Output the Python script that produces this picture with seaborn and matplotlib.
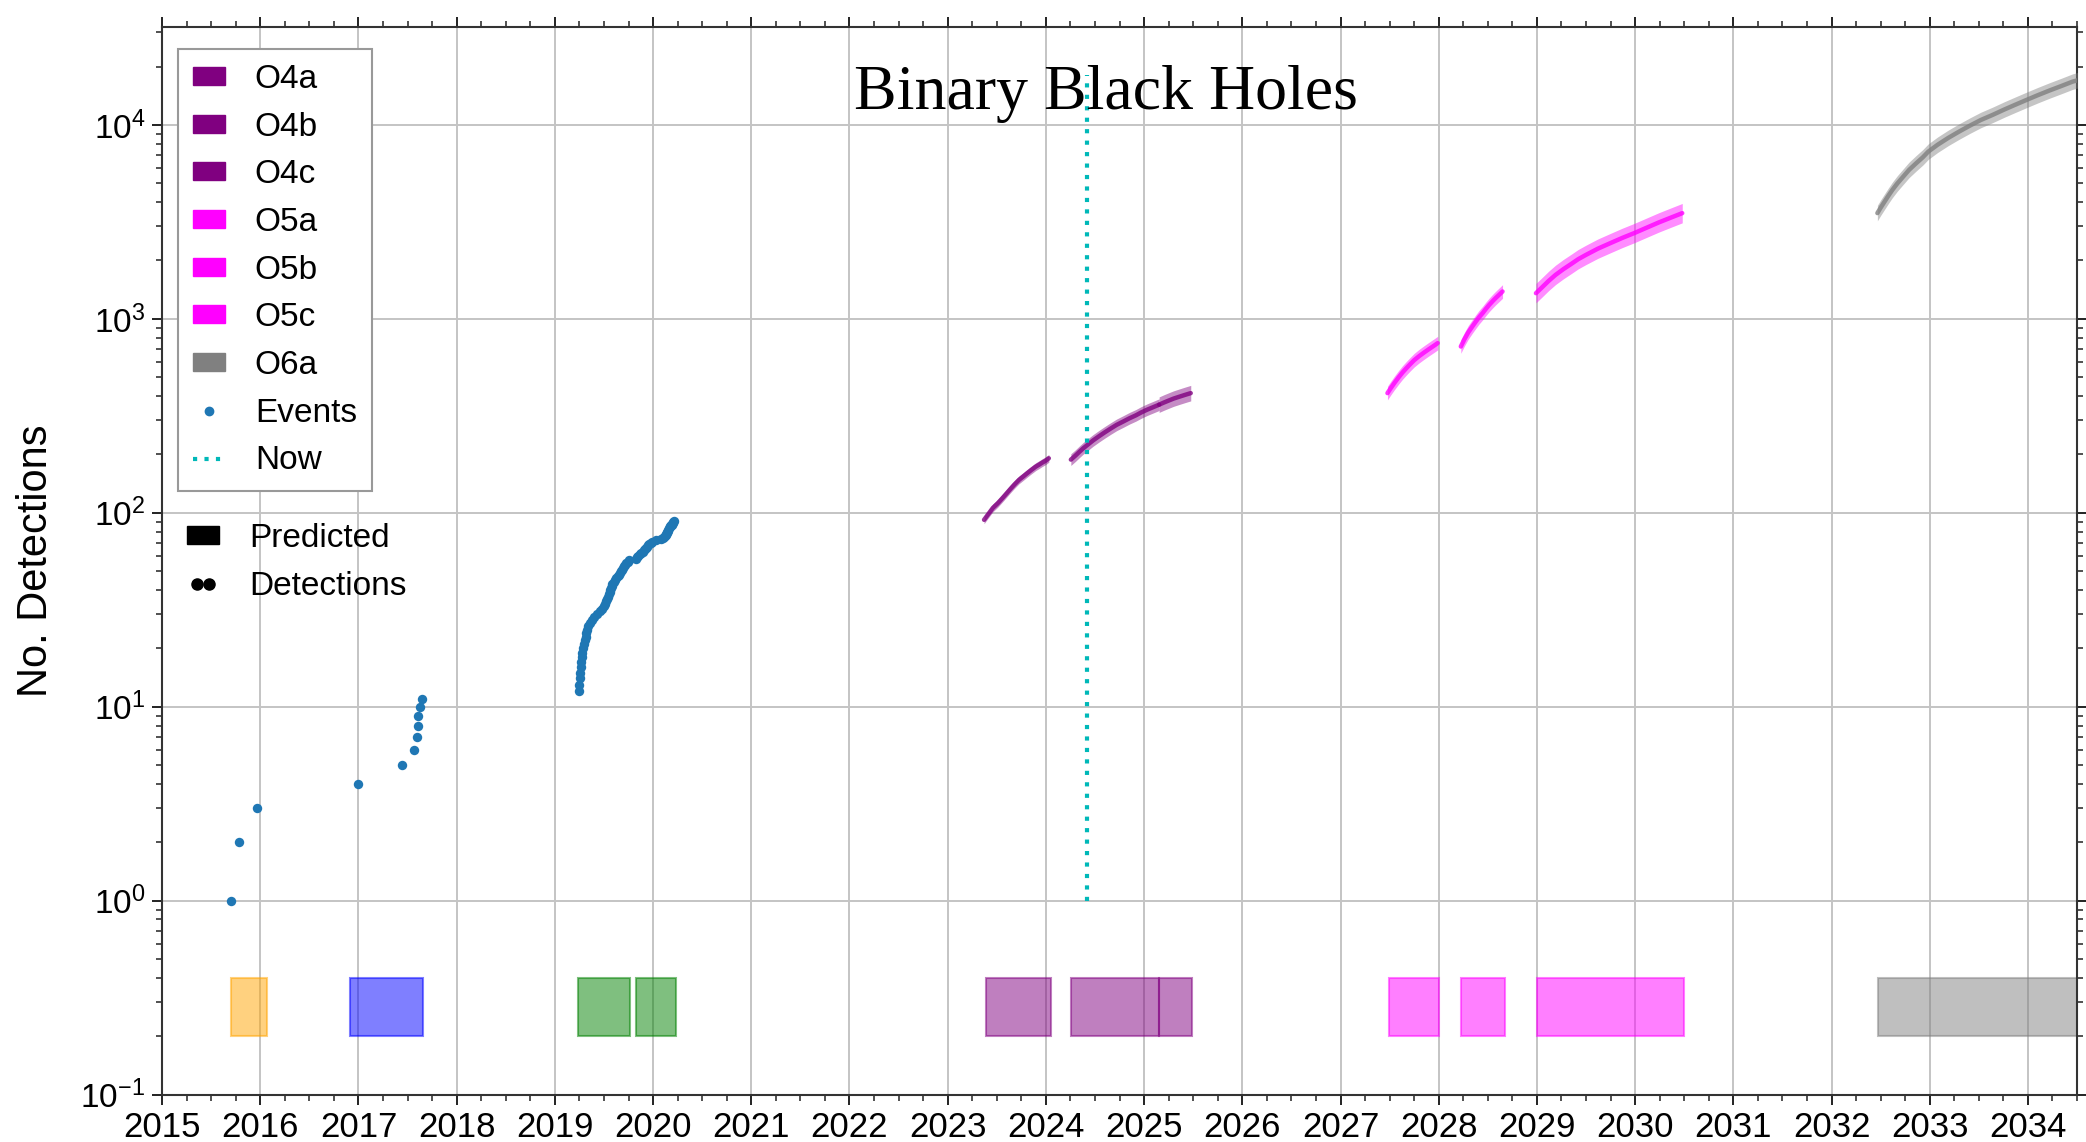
import matplotlib
matplotlib.use("Agg")
import numpy as np
import pandas as pd
import matplotlib.pyplot as plt
import seaborn as sns
from matplotlib.patches import Patch
from matplotlib.lines import Line2D
from matplotlib.ticker import MultipleLocator, LogLocator, NullFormatter

# ---------------- data ----------------
# Detected events (cumulative count vs. time)
o1_times = [2015.70, 2015.78, 2015.97]
o1_counts = [1, 2, 3]
o2_times = [2017.00, 2017.44, 2017.57, 2017.60, 2017.605, 2017.61, 2017.63, 2017.65]
o2_counts = [4, 5, 6, 7, 8, 9, 10, 11]
o3_times = [2019.245, 2019.25, 2019.255, 2019.26, 2019.265, 2019.27, 2019.275, 2019.28,
            2019.29, 2019.30, 2019.31, 2019.315, 2019.32, 2019.33, 2019.34, 2019.36,
            2019.38, 2019.40, 2019.43, 2019.46, 2019.48, 2019.50, 2019.51, 2019.52,
            2019.53, 2019.54, 2019.55, 2019.56, 2019.565, 2019.57, 2019.58, 2019.585,
            2019.60, 2019.61, 2019.62, 2019.64, 2019.65, 2019.66, 2019.67, 2019.68,
            2019.69, 2019.70, 2019.71, 2019.725, 2019.74, 2019.75, 2019.83, 2019.84,
            2019.85, 2019.87, 2019.88, 2019.90, 2019.91, 2019.92, 2019.93, 2019.94,
            2019.95, 2019.96, 2019.975, 2019.99, 2020.03, 2020.08, 2020.10, 2020.11,
            2020.12, 2020.13, 2020.135, 2020.14, 2020.145, 2020.15, 2020.155, 2020.16,
            2020.17, 2020.175, 2020.18, 2020.19, 2020.195, 2020.20, 2020.205, 2020.21]
o3_counts = [12, 13, 14, 15, 16, 17, 18, 19, 20, 21, 22, 23, 24, 25, 26, 27,
             28, 29, 30, 31, 32, 33, 34, 35, 36, 37, 38, 39, 40, 41, 42, 43,
             44, 45, 46, 47, 48, 49, 50, 51, 52, 53, 54, 55, 56, 57, 58, 59,
             60, 61, 62, 63, 64, 65, 66, 67, 68, 69, 70, 71, 72, 73, 74, 75,
             76, 77, 78, 79, 80, 81, 82, 83, 84, 85, 86, 87, 88, 89, 90, 91]

# Predicted cumulative detections per run (central value)
o4a_t = [2023.37, 2023.41, 2023.46, 2023.51, 2023.557, 2023.60, 2023.64, 2023.68, 2023.727,
         2023.77, 2023.81, 2023.85, 2023.897, 2023.93, 2023.96, 2024.00, 2024.03]
o4a_n = [92, 98, 106, 112, 119, 126, 133, 140, 148, 154, 160, 166, 173, 177, 181, 186, 191]
o4b_t = [2024.254, 2024.30, 2024.34, 2024.38, 2024.424, 2024.48, 2024.54, 2024.60, 2024.66,
         2024.72, 2024.79, 2024.85, 2024.916, 2024.97, 2025.03, 2025.09, 2025.153]
o4b_n = [188, 197, 206, 215, 224, 236, 248, 260, 272, 284, 296, 307, 318, 329, 340, 350, 361]
o4c_t = [2025.153, 2025.20, 2025.25, 2025.30, 2025.36, 2025.42, 2025.475]
o4c_n = [361, 370, 379, 388, 397, 406, 414]
o5a_t = [2027.478, 2027.51, 2027.55, 2027.59, 2027.63, 2027.67, 2027.71, 2027.75, 2027.80,
         2027.85, 2027.90, 2027.95, 2027.99]
o5a_n = [414, 438, 468, 498, 528, 556, 584, 612, 642, 670, 698, 726, 750]
o5b_t = [2028.225, 2028.26, 2028.30, 2028.34, 2028.378, 2028.41, 2028.45, 2028.48, 2028.514,
         2028.55, 2028.58, 2028.62, 2028.65]
o5b_n = [720, 782, 850, 910, 968, 1018, 1075, 1125, 1180, 1235, 1280, 1338, 1384]
o5c_t = [2028.99, 2029.05, 2029.12, 2029.19, 2029.27, 2029.35, 2029.42, 2029.50, 2029.62,
         2029.75, 2029.87, 2029.99, 2030.12, 2030.24, 2030.36, 2030.48]
o5c_n = [1356, 1450, 1570, 1686, 1805, 1920, 2030, 2138, 2300, 2460, 2615, 2767, 2955,
         3140, 3320, 3508]
o6a_t = [2032.467, 2032.50, 2032.54, 2032.58, 2032.62, 2032.67, 2032.73, 2032.79, 2032.86,
         2032.93, 2032.985, 2033.08, 2033.19, 2033.30, 2033.41, 2033.52, 2033.64, 2033.76,
         2033.87, 2033.985, 2034.10, 2034.22, 2034.34, 2034.455, 2034.6]
o6a_n = [3510, 3740, 4020, 4320, 4625, 4990, 5410, 5865, 6330, 6810, 7280, 7900, 8580,
         9245, 9920, 10600, 11260, 12010, 12700, 13450, 14230, 15050, 15870, 16720, 17500]

pred_names = ["O4a", "O4b", "O4c", "O5a", "O5b", "O5c", "O6a"]
pred_times = [o4a_t, o4b_t, o4c_t, o5a_t, o5b_t, o5c_t, o6a_t]
pred_counts = [o4a_n, o4b_n, o4c_n, o5a_n, o5b_n, o5c_n, o6a_n]
pred_band_dex = [0.02, 0.03, 0.04, 0.035, 0.035, 0.05, 0.04]   # half-width of band (decades)
pred_colors = ["#800080", "#800080", "#800080", "#ff00ff", "#ff00ff", "#ff00ff", "#808080"]

# Observing runs (bars at bottom)
run_names = ["O1", "O2", "O3a", "O3b", "O4a", "O4b", "O4c", "O5a", "O5b", "O5c", "O6a"]
run_starts = [2015.70, 2016.91, 2019.24, 2019.83, 2023.39, 2024.26, 2025.15, 2027.49, 2028.23, 2029.00, 2032.47]
run_ends = [2016.07, 2017.66, 2019.76, 2020.23, 2024.05, 2025.15, 2025.49, 2028.00, 2028.68, 2030.50, 2035.00]
run_colors = ["orange", "blue", "green", "green", "#800080", "#800080", "#800080",
              "#ff00ff", "#ff00ff", "#ff00ff", "#808080"]
run_bar_low, run_bar_high = 0.2, 0.4

now_year = 2024.42
now_range = [1.0, 1.8e4]

xlim = (2015, 2034.5)
ylim = (0.1, 3.2e4)
year_ticks = list(range(2015, 2035))

# ---------------- style ----------------
sns.set_theme(style="ticks")
plt.rcParams["font.family"] = ["Liberation Sans", "DejaVu Sans"]
plt.rcParams["mathtext.fontset"] = "custom"
plt.rcParams["mathtext.rm"] = "Liberation Sans"
plt.rcParams["mathtext.it"] = "Liberation Sans:italic"
plt.rcParams["mathtext.bf"] = "Liberation Sans:bold"
plt.rcParams["text.color"] = "black"
plt.rcParams["axes.labelcolor"] = "black"
plt.rcParams["xtick.color"] = "black"
plt.rcParams["ytick.color"] = "black"

fig = plt.figure(figsize=(20.86, 11.42), dpi=100)
ax = fig.add_axes([0.0777, 0.0415, 0.918, 0.9349])
ax.set_yscale("log")

# runs bars
ax.bar(x=run_starts, height=[run_bar_high - run_bar_low] * len(run_starts),
       width=np.array(run_ends) - np.array(run_starts), bottom=run_bar_low,
       align="edge", color=run_colors, edgecolor=run_colors, alpha=0.5,
       linewidth=1.5, zorder=2)

# predictions
for name, t, n, dex, c in zip(pred_names, pred_times, pred_counts, pred_band_dex, pred_colors):
    n = np.asarray(n, dtype=float)
    ax.fill_between(t, n * 10 ** (-dex), n * 10 ** dex, color=c, alpha=0.45, lw=0, zorder=3)
    sns.lineplot(x=t, y=n, ax=ax, color=c, lw=3.2, alpha=0.8, zorder=4, legend=False)

# events
ev = pd.DataFrame({"t": o1_times + o2_times + o3_times,
                   "n": o1_counts + o2_counts + o3_counts})
sns.scatterplot(data=ev, x="t", y="n", ax=ax, color="#1f77b4", s=46, linewidth=0,
                zorder=5, legend=False)

# now line
ax.plot([now_year, now_year], now_range, color="#00b8b8", lw=3.0,
        linestyle=(0, (1, 1.75)), zorder=6)

# axes
ax.set_xlim(*xlim)
ax.set_ylim(*ylim)
ax.set_xticks(year_ticks)
ax.set_xticklabels([str(y) for y in year_ticks])
ax.xaxis.set_minor_locator(MultipleLocator(0.25))
ax.yaxis.set_major_locator(LogLocator(base=10, numticks=20))
ax.yaxis.set_minor_locator(LogLocator(base=10, subs=np.arange(2, 10), numticks=40))
ax.yaxis.set_minor_formatter(NullFormatter())
ax.tick_params(which="both", direction="out", top=True, right=True,
               labeltop=False, labelright=False, color="#222222", labelcolor="black")
ax.tick_params(which="major", length=7, width=1.4)
ax.tick_params(which="minor", length=4, width=1.1)
ax.tick_params(axis="x", which="major", labelsize=25, pad=5)
ax.tick_params(axis="y", which="major", labelsize=24, pad=5)
for sp in ax.spines.values():
    sp.set_color("#333333")
    sp.set_linewidth(1.5)
    sp.set_visible(True)
ax.grid(True, which="major", color="#c4c4c4", lw=1.4, zorder=0)
ax.set_axisbelow(True)
ax.set_xlabel("")
ax.set_ylabel("No. Detections", fontsize=30, color="black")
ax.yaxis.set_label_coords(-0.0553, 0.5)

ax.text(0.493, 0.923, "Binary Black Holes", transform=ax.transAxes, ha="center",
        va="baseline", fontsize=46, color="black",
        family=["Liberation Serif", "DejaVu Serif"], zorder=7)

# legends
handles = [Patch(facecolor=c, edgecolor=c, label=nm) for nm, c in zip(pred_names, pred_colors)]
handles.append(Line2D([], [], marker="o", ls="none", color="#1f77b4", markersize=6, label="Events"))
handles.append(Line2D([], [], color="#00b8b8", lw=3.0, linestyle=(0, (1, 1.75)), label="Now"))
leg1 = ax.legend(handles=handles, loc="upper left", bbox_to_anchor=(0.0084, 0.9794),
                 borderaxespad=0, fontsize=24, handlelength=0.95, handleheight=0.45,
                 handletextpad=0.9, labelspacing=0.5, borderpad=0.45, frameon=True,
                 fancybox=False, framealpha=1, edgecolor="#999999")
leg1.get_frame().set_linewidth(1.5)
ax.add_artist(leg1)

h2 = [Patch(facecolor="black", edgecolor="black", label="Predicted"),
      Line2D([], [], marker="o", ls="none", color="black", markersize=8, label="Detections")]
leg2 = ax.legend(handles=h2, loc="upper left", bbox_to_anchor=(0.0063, 0.548),
                 borderaxespad=0, fontsize=24, handlelength=0.95, handleheight=0.45,
                 handletextpad=0.9, labelspacing=0.5, borderpad=0.4, frameon=False,
                 numpoints=2)

fig.savefig("out.png", dpi=100)
